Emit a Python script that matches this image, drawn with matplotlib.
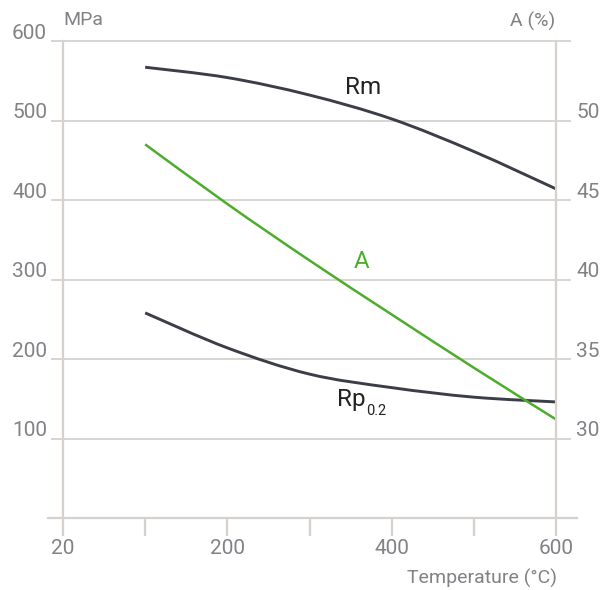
import matplotlib
matplotlib.use("Agg")
import matplotlib.pyplot as plt
from matplotlib.path import Path
from matplotlib.patches import PathPatch
from matplotlib.transforms import ScaledTranslation
import numpy as np

# ---- data ----
categories = ['20', '100', '200', '300', '400', '500', '600']
tick_labels = ['20', '', '200', '', '400', '', '600']
temps = ['100', '200', '300', '400', '500', '600']
rm_values = [567, 554, 532, 502, 461, 414]          # MPa
rp_values = [258, 214, 181, 164, 152, 146]          # MPa
a_values = [48.5, 44.75, 41.2, 37.8, 34.45, 31.2]   # %
left_ticks = [100, 200, 300, 400, 500, 600]
right_ticks = [30, 35, 40, 45, 50]

GRID = '#d6d1cd'
TXT = '#808286'
DARK = '#3b3e46'
GREEN = '#4cad2c'
FONT = ['Roboto', 'DejaVu Sans']
TW = 'normal'
TICK_FS = 15

plt.rcParams['font.family'] = FONT

W, H = 603, 590
fig = plt.figure(figsize=(W / 100, H / 100), dpi=100)
x0, x1, ytop, ybot = 63, 556, 41, 518
ax = fig.add_axes([x0 / W, (H - ybot) / H, (x1 - x0) / W, (ybot - ytop) / H])
ax2 = ax.twinx()

xpos = {c: i for i, c in enumerate(categories)}
ax.set_xlim(0, len(categories) - 1)
ax.set_ylim(0, 600)
ax2.set_ylim(25, 55)


def smooth_patch(axis, xs, ys, color, lw):
    pts = np.column_stack([xs, ys]).astype(float)
    n = len(pts)
    verts = [pts[0]]
    codes = [Path.MOVETO]
    for i in range(n - 1):
        p0 = pts[i - 1] if i > 0 else pts[i]
        p1 = pts[i]
        p2 = pts[i + 1]
        p3 = pts[i + 2] if i + 2 < n else pts[i + 1]
        c1 = p1 + (p2 - p0) / 6.0
        c2 = p2 - (p3 - p1) / 6.0
        verts += [c1, c2, p2]
        codes += [Path.CURVE4] * 3
    patch = PathPatch(Path(verts, codes), facecolor='none', edgecolor=color,
                      lw=lw, capstyle='butt', joinstyle='round')
    axis.add_patch(patch)


xs = [xpos[t] for t in temps]
smooth_patch(ax, xs, rm_values, DARK, 2.1)
smooth_patch(ax, xs, rp_values, DARK, 2.1)
smooth_patch(ax2, xs, a_values, GREEN, 1.8)

# grid lines (extend a bit beyond plot)
ext_l = 11 / (x1 - x0)
ext_r = 14 / (x1 - x0)
for v in left_ticks:
    ax.axhline(v, xmin=-ext_l, xmax=1 + ext_r, color=GRID, lw=1.3, clip_on=False, zorder=0)
ax.axhline(0, xmin=-15 / (x1 - x0), xmax=1 + 21 / (x1 - x0), color=GRID, lw=1.6,
           clip_on=False, zorder=0)

for a in (ax, ax2):
    for s in ('top', 'bottom'):
        a.spines[s].set_visible(False)
    a.spines['left'].set_color(GRID)
    a.spines['right'].set_color(GRID)
    a.spines['left'].set_linewidth(1.6)
    a.spines['right'].set_linewidth(1.6)
ax.spines['right'].set_visible(False)
ax2.spines['left'].set_visible(False)

ax.set_xticks(range(len(categories)))
ax.set_xticklabels(tick_labels)
ax.tick_params(axis='x', direction='out', length=13, width=1.6, color=GRID,
               pad=2, labelsize=TICK_FS, labelcolor=TXT)

ax.set_yticks(left_ticks)
ax.set_yticklabels([str(v) for v in left_ticks])
ax.tick_params(axis='y', length=0, pad=11.5, labelsize=TICK_FS, labelcolor=TXT)
ax2.set_yticks(right_ticks)
ax2.set_yticklabels([str(v) for v in right_ticks])
ax2.tick_params(axis='y', length=0, pad=14.5, labelsize=TICK_FS, labelcolor=TXT)

off = ScaledTranslation(0, 1.5 / 72, fig.dpi_scale_trans)
for lab in ax.get_yticklabels() + ax2.get_yticklabels():
    lab.set_verticalalignment('baseline')
    lab.set_transform(lab.get_transform() + off)
    lab.set_fontweight(TW)
for lab in ax.get_xticklabels():
    lab.set_fontweight(TW)

# axis titles
fig.text(x0 / W, 1 - 20 / H, 'MPa', ha='left', va='center', fontsize=14,
         color=TXT, fontweight=TW)
fig.text((x1 - 1) / W, 1 - 21 / H, 'A (%)', ha='right', va='center', fontsize=14,
         color=TXT, fontweight=TW)
fig.text((x1 + 1) / W, 1 - 578 / H, 'Temperature (°C)', ha='right', va='center',
         fontsize=14, color=TXT, fontweight=TW)

# series labels
ax.text(3.43, 533, 'Rm', ha='left', va='baseline', fontsize=17.5, color='#222222')
rp_txt = ax.text(3.33, 141, 'Rp', ha='left', va='baseline', fontsize=17.5,
                 color='#222222')
ax.annotate('0.2', xy=(1, 0), xycoords=rp_txt, xytext=(0.5, -5),
            textcoords='offset points', ha='left', va='bottom', fontsize=10.5,
            color='#222222')
ax.text(3.54, 314, 'A', ha='left', va='baseline', fontsize=17.5, color=GREEN)

fig.savefig('out.png', dpi=100)
